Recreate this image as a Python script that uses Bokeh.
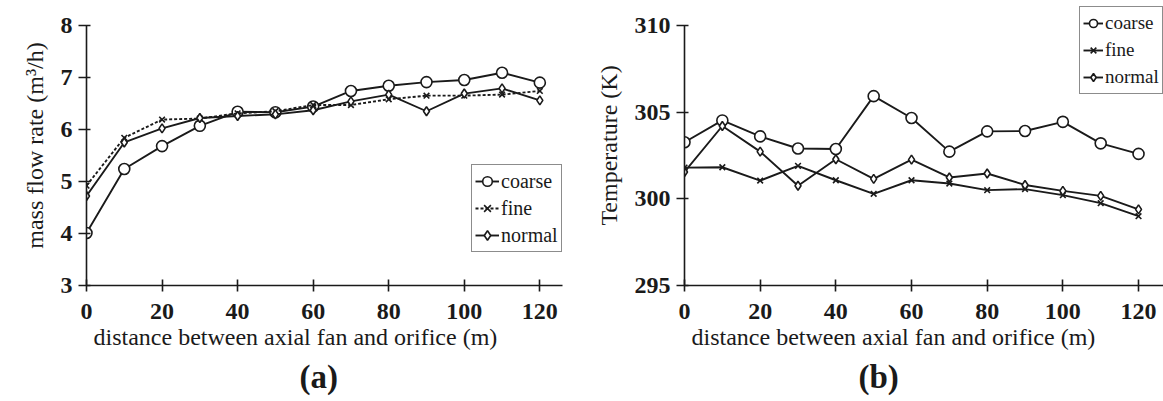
from bokeh.plotting import figure
from bokeh.layouts import row
from bokeh.models import Legend, LegendItem, Title, Range1d, FixedTicker
from bokeh.embed import file_html
from bokeh.resources import INLINE

distance = [0, 10, 20, 30, 40, 50, 60, 70, 80, 90, 100, 110, 120]
flow_coarse = [4.01, 5.24, 5.68, 6.07, 6.34, 6.33, 6.44, 6.74, 6.84, 6.91, 6.95, 7.09, 6.90]
flow_fine = [4.92, 5.84, 6.19, 6.21, 6.31, 6.35, 6.47, 6.47, 6.58, 6.65, 6.65, 6.67, 6.74]
flow_normal = [4.72, 5.75, 6.02, 6.22, 6.26, 6.29, 6.37, 6.54, 6.67, 6.35, 6.69, 6.79, 6.56]
temp_coarse = [303.26, 304.52, 303.60, 302.90, 302.87, 305.92, 304.66, 302.72, 303.89, 303.91, 304.44, 303.20, 302.59]
temp_fine = [301.80, 301.82, 301.05, 301.90, 301.07, 300.29, 301.07, 300.88, 300.50, 300.56, 300.21, 299.75, 299.00]
temp_normal = [301.55, 304.20, 302.72, 300.75, 302.28, 301.15, 302.26, 301.23, 301.46, 300.80, 300.46, 300.17, 299.39]
series_names = ["coarse", "fine", "normal"]
x_ticks = [0, 20, 40, 60, 80, 100, 120]
flow_ticks = [3, 4, 5, 6, 7, 8]
temp_ticks = [295, 300, 305, 310]

FONT = "Liberation Serif"
INK = "#1a1a1a"


def panel(width, left, x_end, y_lo, y_hi, y_ticks, y_label, ys, fine_dash,
          legend_loc, leg_font, leg_glyph_w, xlab_offset, tag, tag_offset, right_border):
    # frame is 281 px tall; the axis spans the lower 261 px (y_lo..y_hi)
    y_top = y_hi + (y_hi - y_lo) * 20.0 / 261.0
    p = figure(width=width, height=401, output_backend="svg", toolbar_location=None,
               x_range=Range1d(0, x_end), y_range=Range1d(y_lo, y_top),
               min_border_left=left, min_border_right=right_border,
               min_border_top=5, min_border_bottom=115)
    p.outline_line_color = None
    p.grid.visible = False
    p.background_fill_color = "white"
    p.border_fill_color = "white"

    for ax in (p.xaxis[0], p.yaxis[0]):
        ax.axis_line_color = INK
        ax.axis_line_width = 1.6
        ax.major_tick_line_color = INK
        ax.major_tick_line_width = 1.6
        ax.minor_tick_line_color = None
        ax.major_label_text_font = FONT
        ax.major_label_text_font_style = "bold"
        ax.major_label_text_font_size = "24px"
        ax.major_label_text_color = INK
    xa = p.xaxis[0]
    xa.ticker = FixedTicker(ticks=x_ticks)
    xa.major_tick_in = 6
    xa.major_tick_out = 6
    xa.major_label_standoff = 12
    ya = p.yaxis[0]
    ya.ticker = FixedTicker(ticks=y_ticks)
    ya.bounds = (y_lo, y_hi)
    ya.major_tick_in = 4
    ya.major_tick_out = 8
    ya.major_label_standoff = 6
    ya.axis_label = y_label
    ya.axis_label_text_font = FONT
    ya.axis_label_text_font_style = "normal"
    ya.axis_label_text_font_size = "24px"
    ya.axis_label_text_color = INK
    ya.axis_label_standoff = 10

    markers = ["circle", "x", "diamond"]
    sizes = [11, 8, 9]
    items = []
    for name, yv, mk, sz in zip(series_names, ys, markers, sizes):
        dash = fine_dash if name == "fine" else "solid"
        r1 = p.line(distance, yv, line_color=INK, line_width=1.9, line_dash=dash)
        r2 = p.scatter(distance, yv, marker=mk, size=sz, line_color=INK,
                       fill_color="white", line_width=1.6)
        items.append(LegendItem(label=name, renderers=[r1, r2]))

    leg = Legend(items=items, location=legend_loc)
    leg.label_text_font = FONT
    leg.label_text_font_size = leg_font
    leg.label_text_color = INK
    leg.border_line_color = INK
    leg.border_line_width = 1.5
    leg.background_fill_alpha = 1
    leg.glyph_width = leg_glyph_w
    leg.glyph_height = 26
    leg.label_height = 26
    leg.label_standoff = 2
    leg.spacing = 1
    leg.padding = 3
    leg.margin = 0
    p.add_layout(leg, "center")

    p.add_layout(Title(text="distance between axial fan and orifice (m)", align="left",
                       offset=xlab_offset, text_font=FONT, text_font_size="24px",
                       text_font_style="normal", text_color=INK, standoff=0), "below")
    p.add_layout(Title(text=tag, align="left", offset=tag_offset, text_font=FONT,
                       text_font_size="33px", text_font_style="bold", text_color=INK,
                       standoff=14), "below")
    return p


p1 = panel(580, 86, 126.0, 3, 8, flow_ticks, "mass flow rate (m³/h)",
           [flow_coarse, flow_fine, flow_normal], "3 2", (385, 33), "20px", 24,
           7, "(a)", 213, 18)
p2 = panel(583, 104, 126.6, 295, 310, temp_ticks, "Temperature (K)",
           [temp_coarse, temp_fine, temp_normal], "solid", (395, 191), "19px", 20,
           7, "(b)", 174, 0)

layout = row(p1, p2)
open("out.html", "w").write(file_html(layout, INLINE))
